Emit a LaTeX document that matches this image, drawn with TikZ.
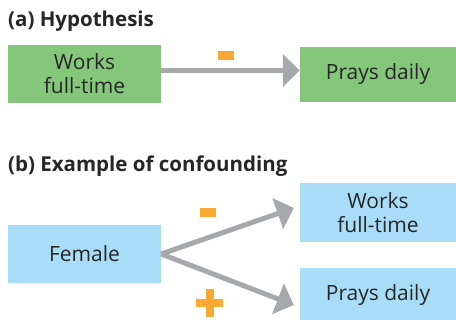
\documentclass[tikz,border=0pt]{standalone}
\usepackage{fontspec}
\setmainfont{Open Sans}
\usepackage{xcolor}
\usetikzlibrary{arrows.meta,positioning}

\definecolor{boxgreen}{HTML}{84C77B}
\definecolor{boxblue}{HTML}{A9DDF7}
\definecolor{arrgray}{HTML}{A7A8AC}
\definecolor{signorange}{HTML}{F9A832}
\definecolor{txtdark}{HTML}{262626}

\tikzset{
	box/.style = {rectangle, inner sep=0pt, align=center, text=txtdark,
		font=\fontsize{21}{24}\selectfont},
	greenbox/.style = {box, fill=boxgreen},
	bluebox/.style = {box, fill=boxblue},
	title/.style = {inner sep=0pt, anchor=base west, text=txtdark,
		font=\fontsize{20.5}{23}\selectfont\bfseries},
	link/.style = {draw=arrgray, line width=5pt,
		-{Triangle[length=17pt,width=32pt]}},
	bar/.style = {rectangle, inner sep=0pt, fill=signorange}
}

\begin{document}
\begin{tikzpicture}[x=1pt,y=-1pt]
	\useasboundingbox (0,0) rectangle (456,320);
	% (a)
	\node[title] (titleA) at (8,27) {(a) Hypothesis};
	\node[greenbox, minimum width=153pt, minimum height=58pt] (workA) at (84.5,74) {Works\\full-time};
	\node[greenbox, minimum width=156pt, minimum height=55pt] (prayA) at (378,74.5) {Prays daily};
	\draw[link] ([yshift=3.5pt]workA.east) -- ([yshift=4pt]prayA.west);
	\node[bar, minimum width=16pt, minimum height=9pt] (negA) at (226,55.5) {};
	% (b)
	\node[title] (titleB) at (8,171.5) {(b) Example of confounding};
	\node[bluebox, minimum width=153pt, minimum height=58pt] (female) at (84.5,254) {Female};
	\node[bluebox, minimum width=156pt, minimum height=59pt] (workB) at (378,212.5) {Works\\full-time};
	\node[bluebox, minimum width=156pt, minimum height=54pt] (prayB) at (378,295) {Prays daily};
	\draw[link] (female.east) -- ([xshift=-6pt,yshift=4.5pt]workB.west);
	\draw[link] (female.east) -- ([xshift=-6pt,yshift=-10pt]prayB.west);
	\node[bar, minimum width=16pt, minimum height=9pt] (negB) at (208,213) {};
	\node[bar, minimum width=27pt, minimum height=8pt] (posB) at (209.5,303) {};
	\node[bar, minimum width=8pt, minimum height=28pt] at (posB) {};
\end{tikzpicture}
\end{document}
